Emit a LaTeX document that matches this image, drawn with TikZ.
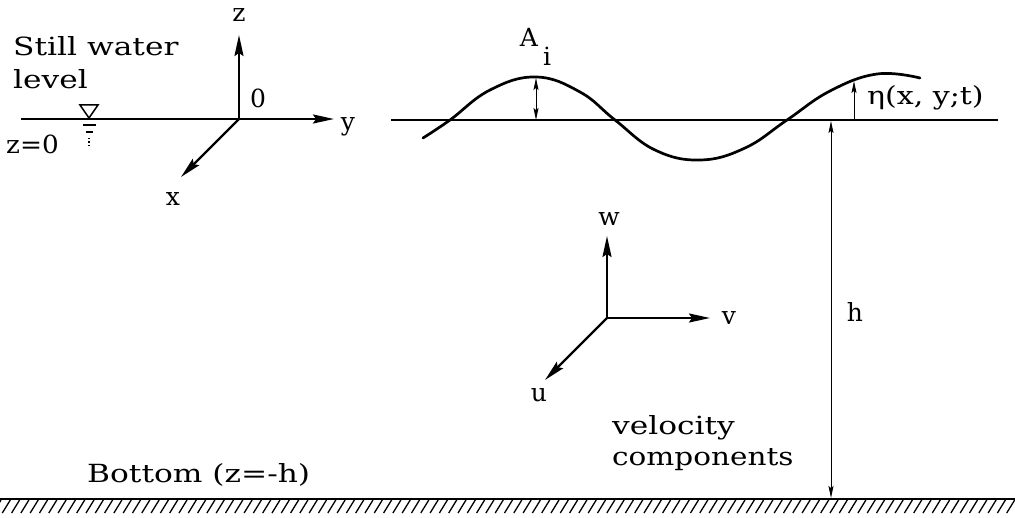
\documentclass[tikz,border=0pt]{standalone}
\usepackage{fontspec}
\setmainfont{DejaVu Serif}
\newfontfamily\widefont{DejaVu Serif}[FakeStretch=1.25]
\newfontfamily\midfont{DejaVu Serif}[FakeStretch=1.18]
\newfontfamily\etafont{DejaVu Serif}[FakeStretch=1.2]
\newfontfamily\zfont{DejaVu Serif}[FakeStretch=1.05]
\usetikzlibrary{arrows.meta}
\begin{document}
\begin{tikzpicture}[x=1pt,y=-1pt,
  fs/.style={font=\fontsize{25}{28}\selectfont #1},
  lbl/.style={fs=, inner sep=0pt},
  wlbl/.style={fs=\widefont, inner sep=0pt},
  axis/.style={line width=2.2pt, -{Stealth[length=21pt,width=9pt,inset=3pt]}},
  dim/.style={line width=1pt, -{Stealth[length=12pt,width=5pt,inset=2pt]}},
  dimboth/.style={line width=1pt, {Stealth[length=12pt,width=5pt,inset=2pt]}-{Stealth[length=12pt,width=5pt,inset=2pt]}},
  surf/.style={line width=2.2pt}]
\useasboundingbox (0,0) rectangle (1015,518);

% left coordinate system
\coordinate (O1) at (239,119);
\coordinate (L1) at (21,119);
\coordinate (Zt) at (239,35);
\coordinate (Yt) at (334,119);
\coordinate (Xt) at (181,177);
\draw[surf] (L1) -- (O1);
\draw[axis] (O1) -- (Zt);
\draw[axis] (O1) -- (Yt);
\draw[axis] (O1) -- (Xt);
\node[lbl] (zl) at (239,15) {z};
\node[lbl] (zero) at (258,98) {0};
\node[lbl] (yl) at (348,127) {y};
\node[lbl] (xl) at (173,199) {x};
\node[wlbl, anchor=west] (still) at (13,46) {Still water};
\node[wlbl, anchor=west] (level) at (13,79) {level};
\node[fs=\zfont, inner sep=0pt, anchor=west] (z0) at (6,144) {z=0};
% still water symbol
\draw[line width=1.5pt] (80,105) -- (98,105) -- (89,118) -- cycle;
\draw[line width=1.3pt] (83,125) -- (96,125);
\draw[line width=1.3pt] (86,132) -- (93,132);
\draw[line width=1.3pt, dotted] (89,138) -- (89,147);

% wave section
\coordinate (L2) at (391,120);
\coordinate (R2) at (998,120);
\draw[surf] (L2) -- (R2);
\draw[line width=2.7pt, line cap=round] plot[smooth, tension=0.7] coordinates
  {(423,138) (450,120) (490,90) (536,77) (580,92) (615,120) (655,150) (700,160) (745,148) (787,120) (830,91) (877,74) (920,78)};
\coordinate (Atop) at (536,78);
\coordinate (Abot) at (536,120);
\draw[dimboth] (Abot) -- (Atop);
\node[lbl] (A) at (529,37) {A};
\node[lbl] (Ai) at (547,56) {i};
\coordinate (Ebot) at (854,120);
\coordinate (Etop) at (854,81);
\draw[dim] (Ebot) -- (Etop);
\node[fs=\etafont, inner sep=0pt, anchor=west] (eta) at (867,98) {η(x, y;t)};

% depth
\coordinate (Htop) at (831,121);
\coordinate (Hbot) at (831,498);
\draw[dimboth] (Htop) -- (Hbot);
\node[lbl] (h) at (855,312) {h};

% velocity components
\coordinate (O2) at (607,318);
\coordinate (Wt) at (607,236);
\coordinate (Vt) at (710,318);
\coordinate (Ut) at (545,380);
\draw[axis] (O2) -- (Wt);
\draw[axis] (O2) -- (Vt);
\draw[axis] (O2) -- (Ut);
\node[lbl] (w) at (609,219) {w};
\node[lbl] (v) at (729,318) {v};
\node[lbl] (u) at (539,395) {u};
\node[wlbl, anchor=west] (vel) at (612,428) {velocity};
\node[fs=\midfont, inner sep=0pt, anchor=west] (comp) at (612,460) {components};

% bottom
\node[wlbl, anchor=west] (bot) at (87,475) {Bottom (z=-h)};
\coordinate (B1) at (0,499);
\coordinate (B2) at (1015,499);
\draw[line width=2.5pt] (B1) -- (B2);
\foreach \x in {0,9.3,...,1030} \draw[line width=1.3pt] (\x-7,513) -- (\x+1,500);
\end{tikzpicture}
\end{document}
